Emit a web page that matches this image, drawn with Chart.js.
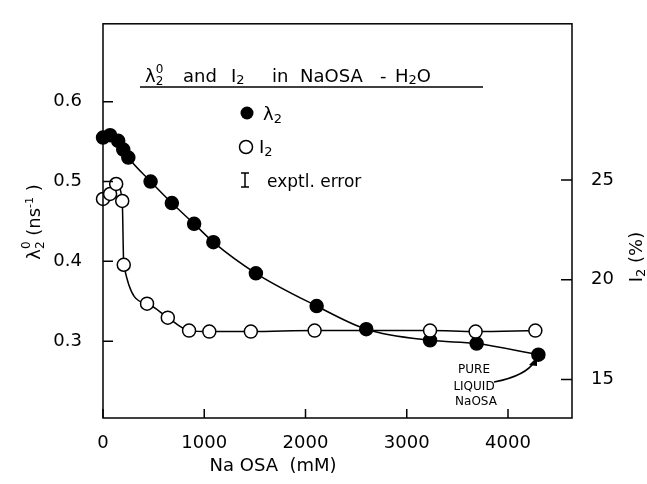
<!DOCTYPE html>
<html>
<head>
<meta charset="utf-8">
<style>
  body { margin: 0; background: #fff; }
  canvas { display: block; }
</style>
</head>
<body>
<canvas id="chart" width="647" height="484"></canvas>

<script src="https://cdn.jsdelivr.net/npm/chart.js"></script>

<script>
  const lambda_conc = [0, 70, 150, 200, 250, 470, 680, 900, 1090, 1510, 2110, 2600, 3230, 3690, 4300];
  const lambda_vals = [0.555, 0.558, 0.551, 0.540, 0.530, 0.500, 0.473, 0.447, 0.424, 0.385, 0.344, 0.315, 0.301, 0.297, 0.283];
  const i2_conc = [0, 70, 130, 190, 205, 435, 640, 850, 1050, 1460, 2090, 3230, 3680, 4270];
  const i2_vals = [24.05, 24.3, 24.8, 23.95, 20.75, 18.8, 18.1, 17.45, 17.4, 17.4, 17.45, 17.45, 17.4, 17.45];

  const x_ticks = [0, 1000, 2000, 3000, 4000];
  const lambda_ticks = [0.3, 0.4, 0.5, 0.6];
  const i2_ticks = [15, 20, 25];

  const FONT = '"DejaVu Sans", sans-serif';
  const font = size => size + 'px ' + FONT;

  // draws a list of text pieces left to right, pieces with stack:true don't advance x
  function runWidth(ctx, pieces) {
    let w = 0;
    for (const p of pieces) {
      ctx.font = font(p.size || 18);
      if (!p.stack) w += ctx.measureText(p.t).width;
    }
    return w;
  }
  function drawRun(ctx, x, y, pieces) {
    for (const p of pieces) {
      ctx.font = font(p.size || 18);
      ctx.fillText(p.t, x, y + (p.dy || 0));
      if (!p.stack) x += ctx.measureText(p.t).width;
    }
    return x;
  }

  const decorations = {
    id: 'decorations',
    afterDraw(chart) {
      const ctx = chart.ctx;
      const a = chart.chartArea;
      ctx.save();
      ctx.strokeStyle = '#000';
      ctx.fillStyle = '#000';
      ctx.lineWidth = 1.5;
      ctx.textAlign = 'left';
      ctx.textBaseline = 'alphabetic';

      // frame
      ctx.strokeRect(a.left, a.top, a.right - a.left, a.bottom - a.top);

      // inward tick marks
      ctx.beginPath();
      const sx = chart.scales.x, sl = chart.scales.y, sr = chart.scales.y2;
      x_ticks.forEach(v => { const p = sx.getPixelForValue(v); ctx.moveTo(p, a.bottom); ctx.lineTo(p, a.bottom - 9); });
      lambda_ticks.forEach(v => { const p = sl.getPixelForValue(v); ctx.moveTo(a.left, p); ctx.lineTo(a.left + 10, p); });
      i2_ticks.forEach(v => { const p = sr.getPixelForValue(v); ctx.moveTo(a.right, p); ctx.lineTo(a.right - 11, p); });
      ctx.stroke();

      // title inside the plot
      drawRun(ctx, 145, 82, [{ t: 'λ' }, { t: '0', size: 12, dy: -9, stack: true }, { t: '2', size: 12, dy: 3 }]);
      drawRun(ctx, 183, 82, [{ t: 'and' }]);
      drawRun(ctx, 231, 82, [{ t: 'I' }, { t: '2', size: 13, dy: 2 }]);
      drawRun(ctx, 272, 82, [{ t: 'in' }]);
      drawRun(ctx, 300, 82, [{ t: 'NaOSA' }]);
      drawRun(ctx, 380, 82, [{ t: '-' }]);
      drawRun(ctx, 395, 82, [{ t: 'H' }, { t: '2', size: 13, dy: 2 }, { t: 'O' }]);
      ctx.beginPath();
      ctx.moveTo(140, 87);
      ctx.lineTo(483, 87);
      ctx.stroke();

      // legend
      ctx.beginPath();
      ctx.arc(247, 113, 6.5, 0, Math.PI * 2);
      ctx.fill();
      drawRun(ctx, 263, 120, [{ t: 'λ' }, { t: '2', size: 13, dy: 3 }]);
      ctx.beginPath();
      ctx.arc(246, 147, 6.5, 0, Math.PI * 2);
      ctx.fillStyle = '#fff';
      ctx.fill();
      ctx.stroke();
      ctx.fillStyle = '#000';
      drawRun(ctx, 259, 153, [{ t: 'I' }, { t: '2', size: 13, dy: 3 }]);
      ctx.beginPath();
      ctx.moveTo(245, 173); ctx.lineTo(245, 187);
      ctx.moveTo(241, 173); ctx.lineTo(249, 173);
      ctx.moveTo(241, 187); ctx.lineTo(249, 187);
      ctx.stroke();
      drawRun(ctx, 267, 187, [{ t: 'exptl. error', size: 17 }]);

      // annotation for the last point
      ctx.font = font(12);
      ctx.textAlign = 'center';
      ctx.fillText('PURE', 474, 373);
      ctx.fillText('LIQUID', 474, 390);
      ctx.fillText('NaOSA', 476, 405);
      ctx.beginPath();
      ctx.moveTo(494, 382);
      ctx.quadraticCurveTo(526, 376, 535, 361);
      ctx.stroke();
      ctx.beginPath();
      ctx.moveTo(537, 357);
      ctx.lineTo(529, 365);
      ctx.lineTo(537, 366);
      ctx.closePath();
      ctx.fill();

      // axis titles
      ctx.textAlign = 'left';
      const xt = [{ t: 'Na OSA  (mM)' }];
      drawRun(ctx, 273 - runWidth(ctx, xt) / 2, 471, xt);

      const yl = [{ t: 'λ' }, { t: '0', size: 12, dy: -10, stack: true }, { t: '2', size: 12, dy: 4 }, { t: ' (ns' }, { t: '-1', size: 11, dy: -7 }, { t: ' )' }];
      ctx.save();
      ctx.translate(40, 222);
      ctx.rotate(-Math.PI / 2);
      drawRun(ctx, -runWidth(ctx, yl) / 2, 0, yl);
      ctx.restore();

      const yr = [{ t: 'I' }, { t: '2', size: 13, dy: 3 }, { t: ' (%)' }];
      ctx.save();
      ctx.translate(642, 257);
      ctx.rotate(-Math.PI / 2);
      drawRun(ctx, -runWidth(ctx, yr) / 2, 0, yr);
      ctx.restore();

      ctx.restore();
    }
  };

  const tickFont = { family: FONT, size: 18 };

  new Chart(document.getElementById('chart'), {
    type: 'line',
    data: {
      datasets: [
        {
          label: 'I2',
          data: i2_conc.map((c, i) => ({ x: c, y: i2_vals[i] })),
          yAxisID: 'y2',
          borderColor: '#000',
          borderWidth: 1.5,
          backgroundColor: '#fff',
          pointBackgroundColor: '#fff',
          pointBorderColor: '#000',
          pointBorderWidth: 1.5,
          pointRadius: 6.5,
          cubicInterpolationMode: 'monotone',
          clip: false,
          order: 0
        },
        {
          label: 'λ2',
          data: lambda_conc.map((c, i) => ({ x: c, y: lambda_vals[i] })),
          yAxisID: 'y',
          borderColor: '#000',
          borderWidth: 1.5,
          backgroundColor: '#000',
          pointBackgroundColor: '#000',
          pointBorderColor: '#000',
          pointRadius: 6.5,
          cubicInterpolationMode: 'monotone',
          clip: false,
          order: 1
        }
      ]
    },
    options: {
      responsive: false,
      devicePixelRatio: 1,
      animation: false,
      layout: { padding: { top: 13, left: 0, right: 0, bottom: 0 } },
      plugins: { legend: { display: false }, tooltip: { enabled: false } },
      scales: {
        x: {
          type: 'linear',
          min: 0,
          max: 4632,
          grid: { display: false },
          border: { display: false },
          afterBuildTicks: s => { s.ticks = x_ticks.map(v => ({ value: v })); },
          afterFit: s => { s.height = 66; },
          ticks: { font: tickFont, color: '#000', padding: 7, maxRotation: 0, callback: v => String(v) }
        },
        y: {
          position: 'left',
          min: 0.2037,
          max: 0.6976,
          grid: { display: false },
          border: { display: false },
          afterBuildTicks: s => { s.ticks = lambda_ticks.map(v => ({ value: v })); },
          afterFit: s => { s.width = 103; },
          ticks: { font: tickFont, color: '#000', padding: 13, callback: v => v.toFixed(1) }
        },
        y2: {
          position: 'right',
          min: 13.07,
          max: 32.83,
          grid: { display: false },
          border: { display: false },
          afterBuildTicks: s => { s.ticks = i2_ticks.map(v => ({ value: v })); },
          afterFit: s => { s.width = 75; },
          ticks: { font: tickFont, color: '#000', padding: 11, callback: v => String(v) }
        }
      }
    },
    plugins: [decorations]
  });
</script>
</body>
</html>
